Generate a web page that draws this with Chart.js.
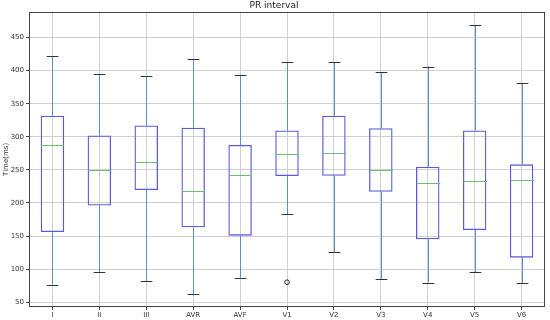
<!DOCTYPE html>
<html>
<head>
<meta charset="utf-8">
<script src="https://cdn.jsdelivr.net/npm/chart.js@4/dist/chart.umd.min.js"></script>
<style>
html,body{margin:0;padding:0;background:#fff;}
#wrap{width:550px;height:320px;position:relative;}
</style>
</head>
<body>
<div id="wrap"><canvas id="c" width="550" height="320"></canvas></div>
<script>
const leads = ['I','II','III','AVR','AVF','V1','V2','V3','V4','V5','V6'];
const whiskerLow  = [76.7, 95.4, 81.8, 63.1, 87.3, 182.9, 126.0, 85.3, 79.7, 95.4, 78.8];
const q1          = [156.0, 196.0, 219.6, 163.3, 150.6, 240.7, 241.2, 217.0, 145.2, 159.2, 117.4];
const medians     = [287.0, 249.3, 261.4, 217.6, 241.8, 274.4, 275.9, 249.8, 230.6, 233.2, 234.2];
const q3          = [331.7, 302.0, 317.2, 313.6, 287.5, 309.7, 331.7, 313.1, 254.7, 309.7, 258.4];
const whiskerHigh = [422.2, 394.2, 391.6, 417.3, 393.6, 412.7, 412.7, 397.6, 406.2, 468.6, 380.6];
const outlierLeads = ['V1'];
const outlierValues = [80.3];
const yTicks = [50, 100, 150, 200, 250, 300, 350, 400, 450];

const FONT = 'DejaVu Sans';
const BOX = '#5b5be0';
const WHISK = '#5a90c4';
const MED = '#6cbf6c';

const boxPlugin = {
  id: 'boxParts',
  afterDatasetsDraw(chart) {
    const ctx = chart.ctx;
    const x = chart.scales.x, y = chart.scales.y;
    const step = x.getPixelForValue(1) - x.getPixelForValue(0);
    const boxHalf = step * 0.25;
    const capHalf = step * 0.125;
    ctx.save();
    ctx.beginPath();
    ctx.rect(chart.chartArea.left, chart.chartArea.top, chart.chartArea.right - chart.chartArea.left, chart.chartArea.bottom - chart.chartArea.top);
    ctx.clip();
    leads.forEach((l, i) => {
      const cx = Math.round(x.getPixelForValue(i)) + 0.5;
      ctx.strokeStyle = WHISK; ctx.lineWidth = 1;
      ctx.beginPath();
      ctx.moveTo(cx, y.getPixelForValue(q3[i])); ctx.lineTo(cx, y.getPixelForValue(whiskerHigh[i]));
      ctx.moveTo(cx, y.getPixelForValue(q1[i])); ctx.lineTo(cx, y.getPixelForValue(whiskerLow[i]));
      ctx.stroke();
      ctx.strokeStyle = '#333'; ctx.lineWidth = 1;
      ctx.beginPath();
      let yh = Math.round(y.getPixelForValue(whiskerHigh[i])) + 0.5;
      let yl = Math.round(y.getPixelForValue(whiskerLow[i])) + 0.5;
      ctx.moveTo(cx - capHalf, yh); ctx.lineTo(cx + capHalf, yh);
      ctx.moveTo(cx - capHalf, yl); ctx.lineTo(cx + capHalf, yl);
      ctx.stroke();
      ctx.strokeStyle = MED; ctx.lineWidth = 1.2;
      const ym = Math.round(y.getPixelForValue(medians[i])) + 0.5;
      ctx.beginPath();
      ctx.moveTo(cx - boxHalf, ym); ctx.lineTo(cx + boxHalf, ym);
      ctx.stroke();
    });
    ctx.restore();
  },
  afterDraw(chart) {
    const a = chart.chartArea, ctx = chart.ctx;
    ctx.save();
    ctx.strokeStyle = '#444';
    ctx.lineWidth = 1;
    ctx.strokeRect(Math.round(a.left) + 0.5, Math.round(a.top) + 0.5, Math.round(a.right - a.left) - 1, Math.round(a.bottom - a.top) - 1);
    ctx.restore();
  }
};

new Chart(document.getElementById('c'), {
  type: 'bar',
  data: {
    labels: leads,
    datasets: [
      {
        type: 'bar',
        label: 'box',
        data: leads.map((l, i) => [q1[i], q3[i]]),
        backgroundColor: 'rgba(0,0,0,0)',
        borderColor: BOX,
        borderWidth: 1.3,
        borderSkipped: false,
        categoryPercentage: 1,
        barPercentage: 0.5,
        order: 2
      },
      {
        type: 'scatter',
        label: 'outliers',
        data: outlierLeads.map((l, i) => ({x: l, y: outlierValues[i]})),
        pointStyle: 'circle',
        pointRadius: 2.3,
        backgroundColor: 'rgba(0,0,0,0)',
        borderColor: '#222',
        borderWidth: 1,
        order: 1
      }
    ]
  },
  options: {
    responsive: false,
    animation: false,
    devicePixelRatio: 1,
    layout: { padding: { left: 0, right: 2, top: 0, bottom: 0 } },
    plugins: {
      legend: { display: false },
      tooltip: { enabled: false },
      title: {
        display: true,
        text: 'PR interval',
        color: '#222',
        font: { family: FONT, size: 9, weight: 'normal' },
        padding: { top: 0, bottom: 1 }
      }
    },
    scales: {
      x: {
        type: 'category',
        offset: true,
        grid: { offset: false, color: '#d0d0d0', lineWidth: 1, drawTicks: true, tickLength: 3, tickColor: '#444' },
        border: { display: false },
        ticks: { color: '#333', font: { family: FONT, size: 7 }, padding: 1, maxRotation: 0, autoSkip: false },
        afterFit(s) { s.height = 13; }
      },
      y: {
        type: 'linear',
        min: 42.8,
        max: 488.9,
        grid: { color: '#d0d0d0', lineWidth: 1, drawTicks: true, tickLength: 3, tickColor: '#444' },
        border: { display: false },
        afterBuildTicks(s) { s.ticks = yTicks.map(v => ({ value: v })); },
        ticks: { color: '#333', font: { family: FONT, size: 7 }, padding: 2 },
        title: { display: true, text: 'Time(ms)', color: '#333', font: { family: FONT, size: 7 }, padding: { top: 2, bottom: 0 } },
        afterFit(s) { s.width = 29; }
      }
    }
  },
  plugins: [boxPlugin]
});
</script>
</body>
</html>
